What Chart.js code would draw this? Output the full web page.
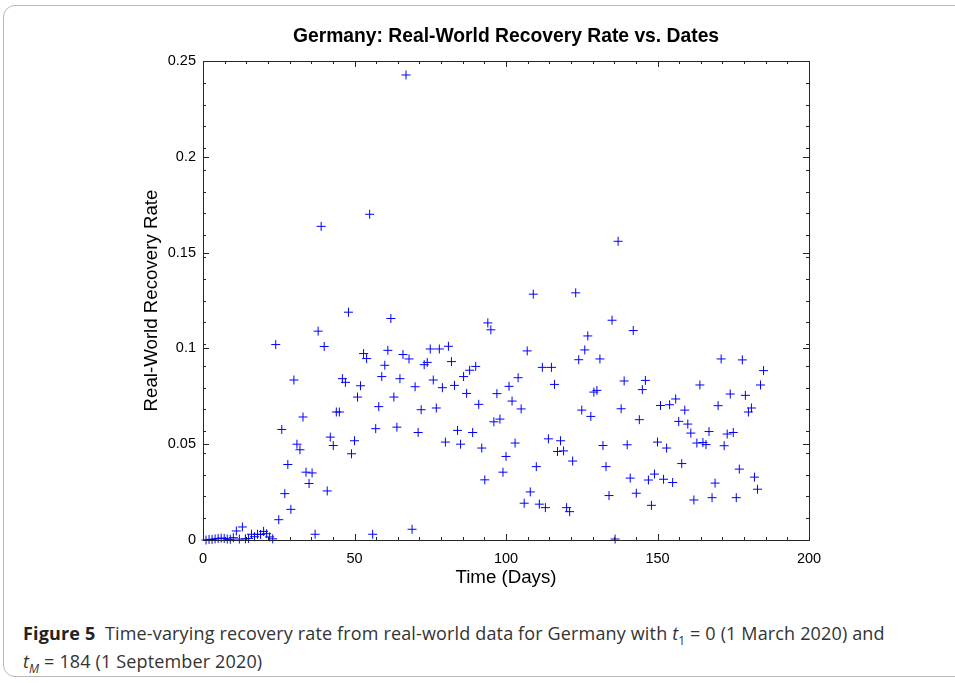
<!DOCTYPE html>
<html>
<head>
<meta charset="utf-8">
<script src="https://cdn.jsdelivr.net/npm/chart.js@4.4.0/dist/chart.umd.min.js"></script>
<style>
    body { margin: 0; background: #fff; width: 955px; height: 683px; overflow: hidden; position: relative; }
    #frame {
        position: absolute; left: 3px; top: 5px; width: 975px; height: 672px;
        border: 1px solid #b8b8b8; border-radius: 12px; box-sizing: border-box;
    }
    #chartBox { position: absolute; left: 0; top: 0; width: 955px; height: 600px; }
    #caption {
        position: absolute; left: 23px; top: 619px; width: 925px;
        font-family: "Open Sans", sans-serif; font-size: 18px; line-height: 28px;
        letter-spacing: 0.15px; color: #333; white-space: nowrap;
    }
    #caption b { font-weight: 700; color: #222; }
    #caption sub { font-size: 12px; line-height: 0; }
</style>
</head>
<body>
<div id="frame"></div>
<div id="chartBox"><canvas id="RecoveryChart" width="955" height="600"></canvas></div>
<div id="caption"><b>Figure 5</b>&nbsp; Time-varying recovery rate from real-world data for Germany with <i>t</i><sub>1</sub> = 0 (1 March 2020) and<br><i>t<sub>M</sub></i> = 184 (1 September 2020)</div>

<script>
// recovery rate per day, day 1 .. 185
var recoveryRate = [
    0, 0.0003, 0.0003, 0.0006, 0.0008, 0.001, 0.0008, 0.0005, 0.0004, 0.0012,
    0.0047, 0.0005, 0.0068, 0.0006, 0.0008, 0.003, 0.0017, 0.003, 0.0029, 0.0045,
    0.0033, 0.0016, 0.0006, 0.102, 0.0106, 0.0577, 0.0242, 0.0394, 0.016, 0.0835,
    0.050, 0.0471, 0.0642, 0.0354, 0.0295, 0.035, 0.003, 0.109, 0.1637, 0.101,
    0.0256, 0.0537, 0.0493, 0.0668, 0.0668, 0.0842, 0.0823, 0.1189, 0.045, 0.0518,
    0.0746, 0.0805, 0.0973, 0.0947, 0.170, 0.003, 0.0581, 0.0696, 0.0853, 0.0912,
    0.099, 0.1156, 0.0746, 0.0589, 0.0842, 0.0968, 0.2427, 0.0945, 0.0056, 0.080,
    0.0561, 0.068, 0.0915, 0.0927, 0.0997, 0.0835, 0.0689, 0.0997, 0.0795, 0.0511,
    0.1011, 0.0931, 0.0807, 0.0572, 0.050, 0.0853, 0.0765, 0.0886, 0.0561, 0.0906,
    0.0708, 0.048, 0.0314, 0.1133, 0.1097, 0.0617, 0.0764, 0.0631, 0.0354, 0.0436,
    0.0802, 0.0725, 0.0506, 0.0847, 0.0684, 0.0192, 0.0987, 0.0251, 0.1283, 0.0383,
    0.0187, 0.0901, 0.0169, 0.0528, 0.0901, 0.0812, 0.0462, 0.0518, 0.0465, 0.0169,
    0.0148, 0.0412, 0.129, 0.0941, 0.0678, 0.0992, 0.1065, 0.0645, 0.0772, 0.0781,
    0.0945, 0.0493, 0.0383, 0.0232, 0.1147, 0.0005, 0.1559, 0.0685, 0.083, 0.0497,
    0.0323, 0.1093, 0.0244, 0.0628, 0.0785, 0.0833, 0.0313, 0.0181, 0.0344, 0.0511,
    0.0702, 0.0317, 0.048, 0.0706, 0.030, 0.0736, 0.0619, 0.0399, 0.0678, 0.0605,
    0.0558, 0.0209, 0.0506, 0.0809, 0.0509, 0.0498, 0.0566, 0.0221, 0.0297, 0.0701,
    0.0945, 0.0492, 0.0553, 0.0762, 0.0561, 0.0221, 0.037, 0.094, 0.0755, 0.0668,
    0.0689, 0.0328, 0.0265, 0.0809, 0.0884
];

var xTicks = [0, 50, 100, 150, 200];
var yTicks = [0, 0.05, 0.1, 0.15, 0.2, 0.25];
var chartTitle = 'Germany: Real-World Recovery Rate vs. Dates';

var points = recoveryRate.map(function (v, i) {
    return { x: i + 1, y: v };
});

// box around the plot with inward ticks (matlab style) plus the title
var boxTicks = {
    id: 'boxTicks',
    afterDraw: function (chart) {
        var ctx = chart.ctx;
        var a = chart.chartArea;
        var xs = chart.scales.x, ys = chart.scales.y;
        ctx.save();
        ctx.strokeStyle = '#262626';
        ctx.lineWidth = 1;
        ctx.strokeRect(Math.round(a.left) + 0.5, Math.round(a.top) + 0.5,
            Math.round(a.right - a.left), Math.round(a.bottom - a.top));
        ctx.beginPath();
        function vTick(v, len) {
            var px = Math.round(xs.getPixelForValue(v)) + 0.5;
            ctx.moveTo(px, a.bottom); ctx.lineTo(px, a.bottom - len);
            ctx.moveTo(px, a.top); ctx.lineTo(px, a.top + len);
        }
        function hTick(v, len) {
            var py = Math.round(ys.getPixelForValue(v)) + 0.5;
            ctx.moveTo(a.left, py); ctx.lineTo(a.left + len, py);
            ctx.moveTo(a.right, py); ctx.lineTo(a.right - len, py);
        }
        for (var i = 1; i < 28; i++) vTick(i * 200 / 28, 3);
        for (var j = 1; j < 22; j++) hTick(j * 0.25 / 22, 3);
        xTicks.forEach(function (v) { vTick(v, 6); });
        yTicks.forEach(function (v) { hTick(v, 6); });
        ctx.stroke();

        // title centred over the plot box
        ctx.fillStyle = '#000';
        ctx.font = 'bold 19.3px "Liberation Sans", Arial, sans-serif';
        ctx.textAlign = 'center';
        ctx.textBaseline = 'middle';
        ctx.fillText(chartTitle, (a.left + a.right) / 2, 37);
        ctx.restore();
    }
};

var recChart = new Chart(document.getElementById('RecoveryChart'), {
    type: 'scatter',
    data: {
        datasets: [{
            label: 'recovery rate',
            data: points,
            pointStyle: 'cross',
            pointRadius: 4.5,
            pointBorderWidth: 1,
            borderColor: '#0000ff',
            backgroundColor: '#0000ff',
            clip: false
        }]
    },
    options: {
        responsive: false,
        animation: false,
        devicePixelRatio: 1,
        layout: { padding: { left: 0, right: 146, top: 61, bottom: 0 } },
        plugins: {
            legend: { display: false },
            tooltip: { enabled: false },
            title: { display: false }
        },
        scales: {
            x: {
                type: 'linear',
                min: 0, max: 200,
                afterBuildTicks: function (s) { s.ticks = xTicks.map(function (v) { return { value: v }; }); },
                afterFit: function (s) { s.height = 60; },
                grid: { display: false, drawTicks: false, tickLength: 0 },
                border: { display: false },
                ticks: {
                    color: '#000', padding: 10, maxRotation: 0,
                    font: { family: '"Liberation Sans", Arial', size: 14.5 }
                },
                title: {
                    display: true, text: 'Time (Days)', color: '#000',
                    font: { family: '"Liberation Sans", Arial', size: 18.7, lineHeight: 1.2 },
                    padding: { top: 0, bottom: 11 }
                }
            },
            y: {
                type: 'linear',
                min: 0, max: 0.25,
                afterBuildTicks: function (s) { s.ticks = yTicks.map(function (v) { return { value: v }; }); },
                afterFit: function (s) { s.width = 203; },
                grid: { display: false, drawTicks: false, tickLength: 0 },
                border: { display: false },
                ticks: {
                    color: '#000', padding: 7,
                    font: { family: '"Liberation Sans", Arial', size: 14.5 },
                    callback: function (v) { return String(+v.toFixed(2)); }
                },
                title: {
                    display: true, text: 'Real-World Recovery Rate', color: '#000',
                    font: { family: '"Liberation Sans", Arial', size: 18.7, lineHeight: 1.2 },
                    padding: { top: 141, bottom: 0 }
                }
            }
        }
    },
    plugins: [boxTicks]
});
</script>
</body>
</html>
